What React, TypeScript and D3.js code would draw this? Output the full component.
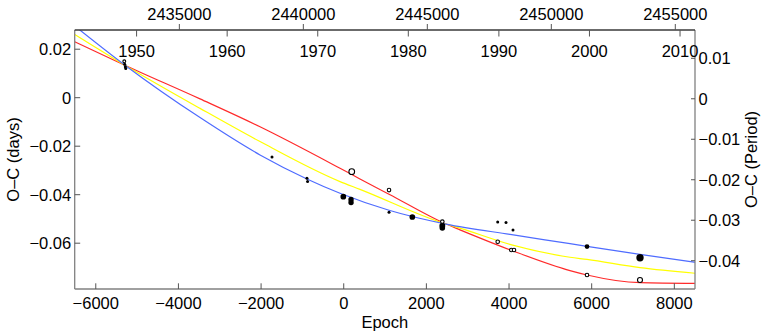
import React from "react";
import * as d3 from "d3";

// ---- data ----
const filledEpoch = [-5300, -5285, -5275, -1735, -890, -875, -10, 177, 177, 1096, 1660, 2386, 2386, 3726, 3927, 4096, 5887, 7169];
const filledOC = [0.0138, 0.0128, 0.012, -0.0245, -0.0332, -0.0346, -0.0408, -0.042, -0.0432, -0.0472, -0.0492, -0.0528, -0.0537, -0.0513, -0.0515, -0.0546, -0.0614, -0.066];
const filledWeight = [1, 1, 1, 1, 1, 1, 3.6, 3.2, 3.2, 1, 3.6, 3.8, 3.4, 1, 1, 1, 2.5, 6];

const openEpoch = [-5310, 194, 1096, 2386, 3726, 4055, 4120, 5887, 7169];
const openOC = [0.015, -0.0305, -0.0381, -0.0511, -0.0594, -0.0628, -0.0628, -0.0731, -0.0752];
const openWeight = [0.9, 3.6, 1.4, 1.4, 1.4, 1.4, 1.4, 1.4, 2.8];

const redEpoch = [-6510, -5285, -3477, -2026, -90, 393, 1096, 2475, 2813, 4065, 5475, 5887, 7169, 8500];
const redOC = [0.0231, 0.0133, -0.0005, -0.012, -0.0291, -0.0335, -0.0398, -0.0521, -0.0545, -0.063, -0.0713, -0.0731, -0.0763, -0.0766];

const yellowEpoch = [-6510, -5285, -3477, -2026, -90, 393, 2475, 2813, 4065, 5475, 5887, 7169, 8500];
const yellowOC = [0.0261, 0.0133, -0.0044, -0.0181, -0.0346, -0.0378, -0.0521, -0.0538, -0.0607, -0.0658, -0.0667, -0.0701, -0.0724];

const blueEpoch = [-6510, -5285, -3477, -2026, -890, -90, 1096, 2475, 4065, 5475, 5887, 7169, 8500];
const blueOC = [0.0296, 0.0133, -0.0082, -0.0236, -0.0335, -0.0394, -0.0464, -0.0521, -0.0565, -0.0602, -0.0613, -0.0646, -0.0679];

const leftTicks = [0.02, 0, -0.02, -0.04, -0.06];
const rightTicks = [0.01, 0, -0.01, -0.02, -0.03, -0.04];
const epochTicks = [-6000, -4000, -2000, 0, 2000, 4000, 6000, 8000];
const jdTicks = [2435000, 2440000, 2445000, 2450000, 2455000];
const yearTicks = [1950, 1960, 1970, 1980, 1990, 2000, 2010];

// ephemeris used for top axes
const T0 = 2441629;
const PERIOD = 1.6665;
const YEAR_AT_T0 = 1972.87;

const W = 771, H = 335;
const L = 74.7, R = 695, T = 30, B = 289;
const FONT = "'Liberation Sans', Arial, Helvetica, sans-serif";
const FS = 16.5;

export default function App() {
  const epochDomain: [number, number] = [-6510, 8500];
  const x = d3.scaleLinear().domain(epochDomain).range([L, R]);
  const y = d3.scaleLinear().domain([0.02792, -0.07889]).range([T, B]);
  const yR = d3.scaleLinear().domain([0.01699, -0.04699]).range([T, B]);
  const xJD = d3.scaleLinear().domain(epochDomain.map((e) => T0 + PERIOD * e)).range([L, R]);
  const xYear = d3.scaleLinear().domain(epochDomain.map((e) => YEAR_AT_T0 + (e * PERIOD) / 365.25)).range([L, R]);
  const rad = d3.scaleSqrt().domain([0, 1]).range([0, 1.5]);
  const fmt = d3.format("~g");

  const line = d3
    .line<[number, number]>()
    .x((d) => x(d[0]))
    .y((d) => y(d[1]))
    .curve(d3.curveMonotoneX);

  const curves = [
    { e: redEpoch, v: redOC, c: "#ff2b2b" },
    { e: yellowEpoch, v: yellowOC, c: "#ffff00" },
    { e: blueEpoch, v: blueOC, c: "#4f6cff" },
  ];

  const axisGray = "#808080";
  const tickCol = "#555";

  return (
    <svg width={W} height={H} style={{ position: "absolute", left: 0, top: 0, background: "#fff" }} fontFamily={FONT}>
      <defs>
        <clipPath id="plotclip">
          <rect x={L} y={T} width={R - L} height={B - T} />
        </clipPath>
      </defs>
      <rect x={0} y={0} width={W} height={H} fill="#fff" />

      {/* curves */}
      <g clipPath="url(#plotclip)">
        {curves.map((cv, i) => (
          <path
            key={i}
            d={line(cv.e.map((e, j) => [e, cv.v[j]] as [number, number])) || ""}
            fill="none"
            stroke={cv.c}
            strokeWidth={1.2}
          />
        ))}
        {filledEpoch.map((e, i) => (
          <circle key={"f" + i} cx={x(e)} cy={y(filledOC[i])} r={rad(filledWeight[i])} fill="#000" />
        ))}
        {openEpoch.map((e, i) => (
          <circle key={"o" + i} cx={x(e)} cy={y(openOC[i])} r={rad(openWeight[i])} fill="#fff" stroke="#000" strokeWidth={1.1} />
        ))}
      </g>

      {/* frame */}
      <line x1={L} x2={L} y1={T} y2={B} stroke={axisGray} strokeWidth={1.3} />
      <line x1={L} x2={R} y1={B} y2={B} stroke={axisGray} strokeWidth={1.3} />
      <line x1={R} x2={R} y1={T} y2={B} stroke={axisGray} strokeWidth={1.3} />
      <line x1={L} x2={R} y1={T} y2={T} stroke="#3a3a3a" strokeWidth={1.3} />

      {/* left axis */}
      {leftTicks.map((t) => (
        <g key={"l" + t}>
          <line x1={L} x2={L + 5.5} y1={y(t)} y2={y(t)} stroke={tickCol} strokeWidth={1} />
          <text x={L - 3.5} y={y(t) + 6} textAnchor="end" fontSize={FS} fill="#000">
            {fmt(t)}
          </text>
        </g>
      ))}

      {/* right axis */}
      {rightTicks.map((t) => (
        <g key={"r" + t}>
          <line x1={R - 4} x2={R} y1={yR(t)} y2={yR(t)} stroke={tickCol} strokeWidth={1} />
          <text x={R + 3.5} y={yR(t) + 6} textAnchor="start" fontSize={FS} fill="#000">
            {fmt(t)}
          </text>
        </g>
      ))}

      {/* bottom axis */}
      {epochTicks.map((t) => (
        <g key={"b" + t}>
          <line x1={x(t)} x2={x(t)} y1={B} y2={B - 5.7} stroke={tickCol} strokeWidth={1} />
          <text x={x(t)} y={309} textAnchor="middle" fontSize={FS} fill="#000">
            {fmt(t)}
          </text>
        </g>
      ))}

      {/* top JD axis (outside) */}
      {jdTicks.map((t) => (
        <g key={"j" + t}>
          <line x1={xJD(t)} x2={xJD(t)} y1={T} y2={T - 6} stroke={tickCol} strokeWidth={1} />
          <text x={xJD(t)} y={20} textAnchor="middle" fontSize={FS} fill="#000">
            {t}
          </text>
        </g>
      ))}

      {/* top year axis (inside) */}
      {yearTicks.map((t) => (
        <g key={"y" + t}>
          <line x1={xYear(t)} x2={xYear(t)} y1={T} y2={T + 6.5} stroke={tickCol} strokeWidth={1} />
          <text x={xYear(t)} y={56.7} textAnchor="middle" fontSize={FS} fill="#000">
            {t}
          </text>
        </g>
      ))}

      {/* axis titles */}
      <text x={(L + R) / 2} y={327.5} textAnchor="middle" fontSize={FS} fill="#000">
        Epoch
      </text>
      <text transform={`translate(18.5, ${(T + B) / 2}) rotate(-90)`} textAnchor="middle" fontSize={FS} fill="#000">
        O–C (days)
      </text>
      <text transform={`translate(757, ${(T + B) / 2}) rotate(-90)`} textAnchor="middle" fontSize={FS} fill="#000">
        O–C (Period)
      </text>
    </svg>
  );
}
